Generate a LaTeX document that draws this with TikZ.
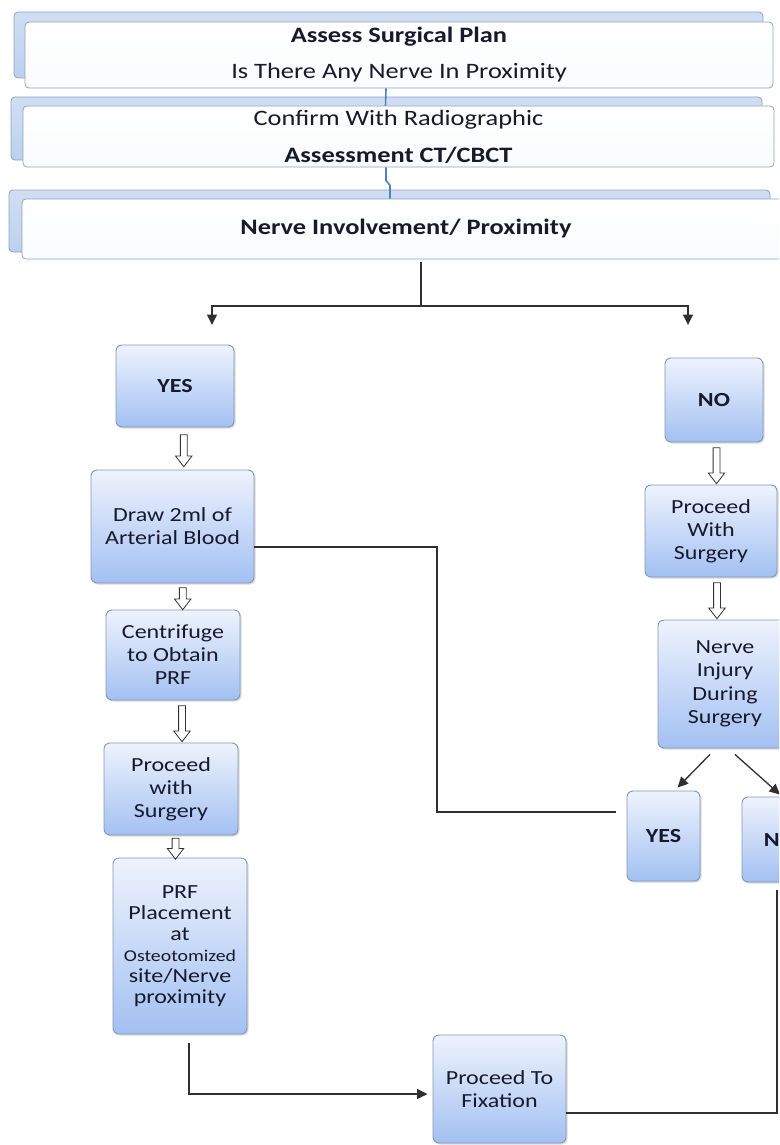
\documentclass[tikz,border=0pt]{standalone}
\usepackage{fontspec}
\setmainfont[FakeStretch=1.2]{Carlito}
\usetikzlibrary{arrows.meta,shapes.arrows,shadows,calc}
\definecolor{txt}{HTML}{161A2C}
\definecolor{boxline}{HTML}{8396B5}
\definecolor{boxtop}{HTML}{EEF3FD}
\definecolor{boxbot}{HTML}{A3C0F2}
\definecolor{banline}{HTML}{8EA3C0}
\definecolor{banback}{HTML}{BCD0EE}
\definecolor{banlink}{HTML}{4F81BD}
\definecolor{lnk}{HTML}{303030}
\begin{document}
\begin{tikzpicture}[x=1pt,y=-1pt,
  box/.style={rounded corners=6pt, draw=boxline, line width=0.9pt,
    top color=boxtop, bottom color=boxbot, align=center, text=txt,
    inner sep=0pt, font=\fontsize{20}{23}\selectfont,
    drop shadow={shadow xshift=1.5pt, shadow yshift=-1.5pt, opacity=0.3}},
  banfront/.style={rounded corners=4pt, draw=banline, line width=0.8pt,
    top color=white, bottom color=white!92!banback, align=center, text=txt,
    inner sep=0pt, font=\fontsize{22}{36}\selectfont},
  banrear/.style={rounded corners=4pt, draw=banline, line width=0.8pt,
    top color=banback!70!white, bottom color=banback, inner sep=0pt},
  banconn/.style={draw=banlink, line width=1.6pt},
  conn/.style={draw=lnk, line width=1.3pt},
  connarrow/.style={conn, -{Triangle[length=10.5pt,width=10pt]}},
  harrow/.style={single arrow, draw=black!80, fill=white, line width=0.8pt,
    shape border rotate=270, inner sep=3pt, single arrow head extend=4.8pt,
    single arrow tip angle=75}
]
\path[use as bounding box] (0,0) rectangle (779,1145);
\clip (0,0) rectangle (779,1145);

% banners
\node[banrear, minimum width=749pt, minimum height=66pt] (b1r) at (388.5,45) {};
\node[banfront, minimum width=748pt, minimum height=66pt] (b1) at (399,55)
  {\textbf{Assess Surgical Plan}\\Is There Any Nerve In Proximity};
\node[banrear, minimum width=751pt, minimum height=63pt] (b2r) at (386.5,128.5) {};
\node[banfront, minimum width=751pt, minimum height=61pt] (b2) at (398.5,136.5)
  {Confirm With Radiographic\\[1pt]\textbf{Assessment CT/CBCT}};
\node[banrear, minimum width=761pt, minimum height=62pt] (b3r) at (389.5,221) {};
\node[banfront, minimum width=768pt, minimum height=60pt] (b3) at (406,229)
  {\textbf{Nerve Involvement/ Proximity}};

\draw[banconn] ([xshift=-13pt]b1.south) -- ([xshift=-13pt]b2.north);
\draw[banconn] ([xshift=-12.5pt]b2.south) -- ++(0,13) -- ++(4,5) -- ([xshift=-16pt]b3.north);

% left column
\node[box, minimum width=118pt, minimum height=82pt] (yes) at (175,386) {\bfseries YES};
\node[box, minimum width=163pt, minimum height=113pt] (draw) at (172.5,526.5)
  {Draw 2ml of\\Arterial Blood};
\node[box, minimum width=134pt, minimum height=90pt] (cent) at (173,655)
  {Centrifuge\\to Obtain\\PRF};
\node[box, minimum width=134pt, minimum height=92pt] (proc) at (171,789)
  {Proceed\\with\\Surgery};
\node[box, minimum width=134pt, minimum height=176pt, font=\fontsize{20}{21}\selectfont] (prf) at (180,946)
  {PRF\\Placement\\at\\{\fontsize{16.5}{21}\selectfont Osteotomized}\\site/Nerve\\proximity};
\node[box, minimum width=133pt, minimum height=108pt] (fix) at (499.5,1089)
  {Proceed To\\Fixation};

% right column
\node[box, minimum width=98pt, minimum height=84pt] (no) at (714,400) {\bfseries NO};
\node[box, minimum width=132pt, minimum height=92pt] (procR) at (711,531)
  {Proceed\\With\\Surgery};
\node[box, minimum width=134pt, minimum height=128pt, font=\fontsize{20}{23.5}\selectfont] (nerve) at (725,684)
  {Nerve\\Injury\\During\\Surgery};
\node[box, minimum width=73pt, minimum height=90pt] (yes2) at (663.5,836) {\bfseries YES};
\node[box, minimum width=76pt, minimum height=85pt] (no2) at (780,839.5) {\bfseries NO};

% split
\coordinate (split) at (421,306);
\coordinate (tipL) at (212,325);
\coordinate (tipR) at (688,325);
\draw[conn] ([xshift=15pt,yshift=-3pt]b3.south) -- (split);
\draw[connarrow] (split) -| (tipL);
\draw[connarrow] (split) -| (tipR);

% hollow arrows
\node[harrow, minimum height=32pt] (h1) at ([xshift=10pt]$(yes.south)!0.5!(draw.north)$) {};
\node[harrow, minimum height=22pt] (h2) at ([xshift=10pt]$(draw.south)!0.5!(cent.north)$) {};
\node[harrow, minimum height=36pt] (h3) at ([xshift=10pt]$(cent.south)!0.5!(proc.north)$) {};
\node[harrow, minimum height=21pt] (h4) at ([xshift=0pt]$(proc.south)!0.5!(prf.north)$) {};
\node[harrow, minimum height=36pt] (h5) at ([xshift=4pt]$(no.south)!0.5!(procR.north)$) {};
\node[harrow, minimum height=36pt] (h6) at ([xshift=-1pt]$(procR.south)!0.5!(nerve.north)$) {};

% connectors
\coordinate (bend1) at (437,812);
\draw[conn] ([yshift=-20.5pt]draw.east) -| (bend1) -- ([xshift=-11pt,yshift=24pt]yes2.west);
\draw[connarrow] ([xshift=-15pt,yshift=-6pt]nerve.south) -- ([xshift=14pt,yshift=3pt]yes2.north);
\draw[connarrow] ([xshift=10pt,yshift=-6pt]nerve.south) -- ([yshift=2pt]no2.north);
\draw[connarrow] ([xshift=9pt,yshift=-9pt]prf.south) |- ([xshift=-5pt,yshift=-5pt]fix.west);
\draw[conn] ([yshift=-24pt]fix.east) -| ([xshift=-3pt,yshift=-8pt]no2.south);
\end{tikzpicture}
\end{document}
